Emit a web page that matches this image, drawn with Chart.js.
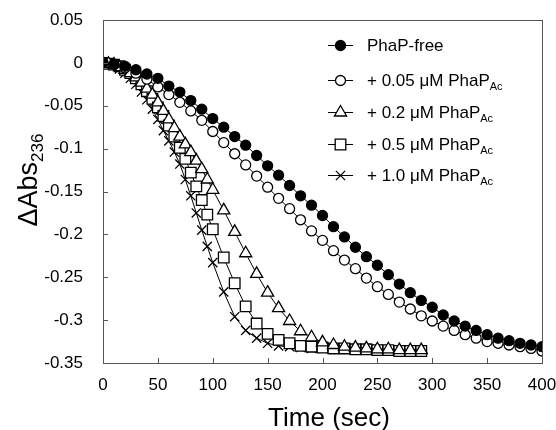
<!DOCTYPE html>
<html>
<head>
<meta charset="utf-8">
<script src="https://cdn.jsdelivr.net/npm/chart.js@4.4.1/dist/chart.umd.min.js"></script>
<style>
  html, body { margin: 0; padding: 0; background: #fff; }
  #wrap { width: 556px; height: 430px; position: relative; }
</style>
</head>
<body>
<div id="wrap"><canvas id="chart"></canvas></div>
<script>
// time axis (sec) – circles sampled every 10 s, the faster runs every 5 s up to 100 s
const timeSlow = [0, 10, 20, 30, 40, 50, 60, 70, 80, 90, 100, 110, 120, 130, 140, 150, 160, 170, 180, 190, 200,
  210, 220, 230, 240, 250, 260, 270, 280, 290, 300, 310, 320, 330, 340, 350, 360, 370, 380, 390, 400];
const timeFast = [0, 5, 10, 15, 20, 25, 30, 35, 40, 45, 50, 55, 60, 65, 70, 75, 80, 85, 90, 95, 100,
  110, 120, 130, 140, 150, 160, 170, 180, 190, 200, 210, 220, 230, 240, 250, 260, 270, 280, 290];

// ΔAbs236
const phapFree = [0, -0.002, -0.004, -0.008, -0.013, -0.018, -0.027, -0.034, -0.044, -0.054, -0.065,
  -0.075, -0.086, -0.096, -0.108, -0.120, -0.131, -0.143, -0.155, -0.166, -0.178,
  -0.191, -0.203, -0.215, -0.226, -0.236, -0.247, -0.258, -0.268, -0.277, -0.285,
  -0.294, -0.301, -0.307, -0.312, -0.317, -0.321, -0.324, -0.327, -0.329, -0.331];
const phap005 = [0, -0.002, -0.006, -0.012, -0.019, -0.028, -0.037, -0.046, -0.056, -0.067, -0.080,
  -0.093, -0.106, -0.119, -0.132, -0.145, -0.158, -0.170, -0.183, -0.196, -0.207,
  -0.219, -0.230, -0.240, -0.251, -0.261, -0.270, -0.279, -0.287, -0.295, -0.301,
  -0.307, -0.312, -0.317, -0.321, -0.325, -0.327, -0.329, -0.331, -0.333, -0.336];
const phap02 = [0, -0.001, -0.002, -0.005, -0.008, -0.012, -0.017, -0.023, -0.030, -0.037, -0.046,
  -0.056, -0.066, -0.076, -0.086, -0.095, -0.104, -0.114, -0.124, -0.136, -0.148,
  -0.172, -0.197, -0.222, -0.246, -0.268, -0.286, -0.301, -0.313, -0.320, -0.326,
  -0.329, -0.331, -0.332, -0.333, -0.334, -0.334, -0.335, -0.335, -0.335];
const phap05 = [0, -0.001, -0.002, -0.004, -0.008, -0.012, -0.018, -0.025, -0.033, -0.042, -0.052,
  -0.062, -0.073, -0.086, -0.099, -0.112, -0.128, -0.144, -0.160, -0.177, -0.194,
  -0.227, -0.257, -0.284, -0.304, -0.316, -0.323, -0.327, -0.330, -0.331, -0.332,
  -0.333, -0.333, -0.334, -0.334, -0.335, -0.335, -0.336, -0.336, -0.336];
const phap10 = [0, -0.001, -0.003, -0.007, -0.012, -0.018, -0.025, -0.034, -0.043, -0.054, -0.066,
  -0.079, -0.091, -0.104, -0.118, -0.136, -0.155, -0.175, -0.195, -0.214, -0.233,
  -0.267, -0.296, -0.312, -0.321, -0.327, -0.330, -0.331, -0.332, -0.333, -0.333,
  -0.333, -0.334, -0.334, -0.334, -0.334, -0.335, -0.335, -0.335, -0.335];

const FONT = '"Liberation Sans", Arial, sans-serif';

function pts(xs, ys) { return xs.map((x, i) => ({ x: x, y: ys[i] })); }

// label text + subscript for the custom legend
const series = [
  { main: 'PhaP-free', sub: '', data: pts(timeSlow, phapFree), style: 'circle', r: 5, bg: '#000' },
  { main: '+ 0.05 \u03bcM PhaP', sub: 'Ac', data: pts(timeSlow, phap005), style: 'circle', r: 5, bg: '#fff' },
  { main: '+ 0.2 \u03bcM PhaP', sub: 'Ac', data: pts(timeFast, phap02), style: 'triangle', r: 7, bg: '#fff' },
  { main: '+ 0.5 \u03bcM PhaP', sub: 'Ac', data: pts(timeFast, phap05), style: 'rect', r: 7.5, bg: '#fff' },
  { main: '+ 1.0 \u03bcM PhaP', sub: 'Ac', data: pts(timeFast, phap10), style: 'crossRot', r: 6.5, bg: '#fff' }
];

// frame, inside ticks, axis titles and legend
const decor = {
  id: 'decor',
  afterDraw(chart) {
    const ctx = chart.ctx, a = chart.chartArea;
    const xs = chart.scales.x, ys = chart.scales.y;
    ctx.save();
    ctx.strokeStyle = '#555';
    ctx.lineWidth = 1;
    ctx.strokeRect(a.left + 0.5, a.top + 0.5, a.right - a.left, a.bottom - a.top);
    ctx.beginPath();
    xs.ticks.forEach(t => {
      const px = Math.round(xs.getPixelForValue(t.value)) + 0.5;
      ctx.moveTo(px, a.bottom); ctx.lineTo(px, a.bottom - 5);
    });
    ys.ticks.forEach(t => {
      const py = Math.round(ys.getPixelForValue(t.value)) + 0.5;
      ctx.moveTo(a.left, py); ctx.lineTo(a.left + 5, py);
    });
    ctx.stroke();

    ctx.fillStyle = '#000';
    // x title
    ctx.font = '26px ' + FONT;
    ctx.textAlign = 'center';
    ctx.textBaseline = 'alphabetic';
    ctx.fillText('Time (sec)', 329, 426);

    // y title, rotated, with subscript
    ctx.save();
    ctx.translate(37, 180);
    ctx.rotate(-Math.PI / 2);
    ctx.textAlign = 'left';
    ctx.font = '27px ' + FONT;
    const wMain = ctx.measureText('\u0394Abs').width;
    ctx.font = '17px ' + FONT;
    const wSub = ctx.measureText('236').width;
    const x0 = -(wMain + wSub) / 2;
    ctx.font = '27px ' + FONT;
    ctx.fillText('\u0394Abs', x0, 0);
    ctx.font = '17px ' + FONT;
    ctx.fillText('236', x0 + wMain, 6);
    ctx.restore();

    // legend
    const rowsY = [45, 80, 112, 144, 175];
    series.forEach((s, i) => {
      const y = rowsY[i];
      ctx.strokeStyle = '#000';
      ctx.lineWidth = 1;
      ctx.beginPath();
      ctx.moveTo(328, y + 0.5); ctx.lineTo(353, y + 0.5);
      ctx.stroke();
      ctx.fillStyle = s.bg;
      ctx.lineWidth = 1.3;
      Chart.helpers.drawPoint(ctx, { pointStyle: s.style, radius: s.r, rotation: 0, borderWidth: 1.3 }, 340.5, y + 0.5);
      ctx.fillStyle = '#000';
      ctx.textAlign = 'left';
      ctx.textBaseline = 'alphabetic';
      ctx.font = '17px ' + FONT;
      ctx.fillText(s.main, 367, y + 6);
      if (s.sub) {
        const w = ctx.measureText(s.main).width;
        ctx.font = '11px ' + FONT;
        ctx.fillText(s.sub, 367 + w, y + 10);
      }
    });
    ctx.restore();
  }
};

new Chart(document.getElementById('chart'), {
  type: 'line',
  data: {
    datasets: series.map(s => ({
      label: s.main + s.sub,
      data: s.data,
      borderColor: '#000',
      borderWidth: 1,
      tension: 0,
      pointStyle: s.style,
      pointRadius: s.r,
      pointBackgroundColor: s.bg,
      pointBorderColor: '#000',
      pointBorderWidth: 1.3
    }))
  },
  options: {
    responsive: true,
    maintainAspectRatio: false,
    animation: false,
    devicePixelRatio: 1,
    events: [],
    layout: { padding: { left: 0, right: 14, top: 20, bottom: 0 } },
    plugins: { legend: { display: false }, tooltip: { enabled: false } },
    scales: {
      x: {
        type: 'linear', min: 0, max: 400,
        grid: { display: false, drawTicks: false },
        border: { display: false },
        ticks: { stepSize: 50, padding: 12, color: '#000', font: { family: FONT, size: 17 } },
        afterFit(scale) { scale.height = 67; scale.paddingLeft = 0; scale.paddingRight = 0; }
      },
      y: {
        type: 'linear', min: -0.35, max: 0.05,
        grid: { display: false, drawTicks: false },
        border: { display: false },
        ticks: {
          stepSize: 0.05, padding: 20, color: '#000', font: { family: FONT, size: 17 },
          callback: v => String(Number(v.toFixed(2)))
        },
        afterFit(scale) { scale.width = 103; scale.paddingTop = 0; scale.paddingBottom = 0; }
      }
    }
  },
  plugins: [decor]
});
</script>
</body>
</html>
